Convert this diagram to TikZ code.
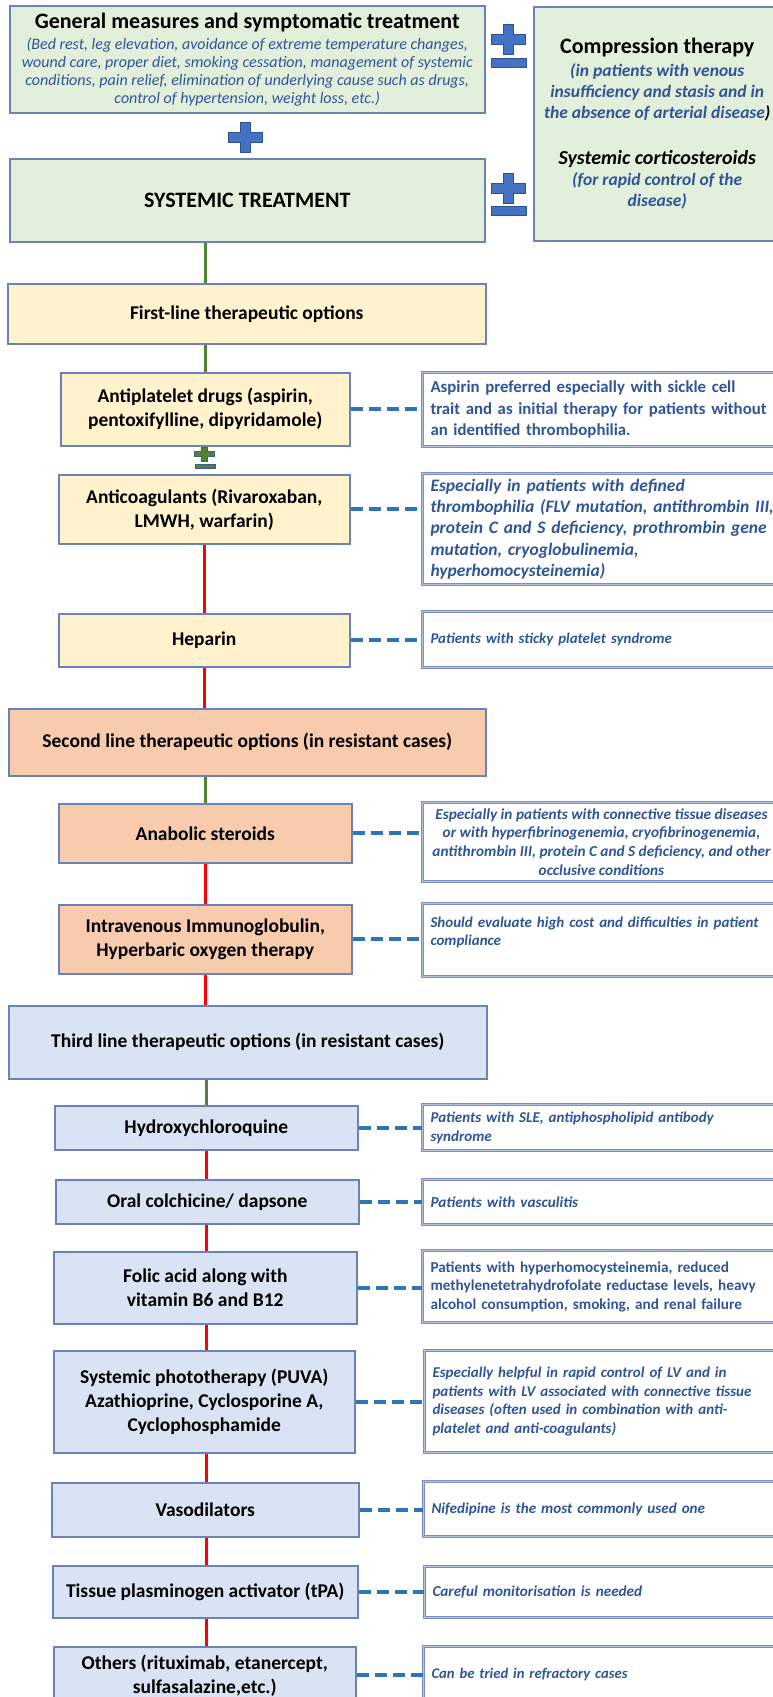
\documentclass[tikz,border=0pt]{standalone}
\usepackage{fontspec}
\setmainfont{Carlito}
\usetikzlibrary{calc}
\definecolor{gfill}{HTML}{E2EFDA}
\definecolor{yfill}{HTML}{FFF2CC}
\definecolor{ofill}{HTML}{F8CBAD}
\definecolor{bfill}{HTML}{DAE3F3}
\definecolor{boxline}{HTML}{6A82BA}
\definecolor{noteline}{HTML}{7C8FBF}
\definecolor{noteinner}{HTML}{B4C2E0}
\definecolor{notetxt}{HTML}{2F5597}
\definecolor{dashcol}{HTML}{2E75B6}
\definecolor{lgreen}{HTML}{548235}
\definecolor{lred}{HTML}{FF0000}
\definecolor{signblue}{HTML}{4472C4}
\definecolor{signblueline}{HTML}{2F528F}
\definecolor{signgreen}{HTML}{548235}
\definecolor{signgreenline}{HTML}{3B5E8C}
\begin{document}
\begin{tikzpicture}[x=1pt,y=-1pt,
  mainbox/.style={draw=boxline, line width=1.5pt, anchor=north west, inner sep=2pt, align=center,
    font=\fontsize{19.5}{24}\selectfont\bfseries},
  notebox/.style={draw=noteline, line width=1pt, double=noteinner, double distance=1pt, fill=white,
    anchor=north west, inner xsep=8pt, inner ysep=2pt, text width=360pt, align=left, text=notetxt},
  nfont/.style={font=\fontsize{#1}{19}\selectfont\bfseries\itshape},
  greenlink/.style={draw=lgreen, line width=3.5pt},
  redlink/.style={draw=lred, line width=3.5pt},
  dashlink/.style={draw=dashcol, line width=4pt, dash pattern=on 12pt off 6pt},
  bluesign/.style={fill=signblue, draw=signblueline, line width=1pt},
  greensign/.style={fill=signgreen, draw=signgreenline, line width=0.8pt},
  plusshape/.pic={\path[pic actions] (-17,-5) -- (-5,-5) -- (-5,-15) -- (5,-15) -- (5,-5) -- (17,-5)
     -- (17,5) -- (5,5) -- (5,15) -- (-5,15) -- (-5,5) -- (-17,5) -- cycle;}
]
\useasboundingbox (0,0) rectangle (772,1697);
\fill[white] (0,0) rectangle (772,1697);

% ---------- top area ----------
\node[mainbox, fill=gfill, minimum width=475pt, minimum height=107pt, text=notetxt,
  font=\fontsize{16}{18}\selectfont\itshape] (gen) at (9,5)
  {{\color{black}\upshape\bfseries\fontsize{22}{26}\selectfont General measures and symptomatic treatment}\\[3pt]
   (Bed rest, leg elevation, avoidance of extreme temperature changes,\\
   wound care, proper diet, smoking cessation, management of systemic\\
   conditions, pain relief, elimination of underlying cause such as drugs,\\
   control of hypertension, weight loss, etc.)};

\node[mainbox, fill=gfill, minimum width=475pt, minimum height=83pt,
  font=\fontsize{22}{26}\selectfont\bfseries] (sys) at (9,158) {SYSTEMIC TREATMENT};

\node[mainbox, fill=gfill, minimum width=247pt, minimum height=234pt, text=notetxt,
  font=\fontsize{17.5}{21}\selectfont\bfseries\itshape] (right) at (533,6)
  {{\color{black}\upshape\fontsize{22}{26}\selectfont Compression therapy}\\[2pt]
   (in patients with venous\\
   insufficiency and stasis and in\\
   the absence of arterial disease{\color{black})}\\[25pt]
   {\color{black}\fontsize{20}{24}\selectfont Systemic corticosteroids}\\
   (for rapid control of the\\
   disease)};

\pic[bluesign] at (245,137.5) {plusshape};
\pic[bluesign] at (508,39) {plusshape};
\path[bluesign] (491,58) rectangle (526,67);
\pic[bluesign] at (508,188) {plusshape};
\path[bluesign] (491,206) rectangle (526,215);

% ---------- first line ----------
\node[mainbox, fill=yfill, minimum width=478pt, minimum height=60pt] (first) at (7,283) {First-line therapeutic options};
\node[mainbox, fill=yfill, minimum width=289pt, minimum height=73pt] (anti) at (60,372)
  {Antiplatelet drugs (aspirin,\\ pentoxifylline, dipyridamole)};
\node[mainbox, fill=yfill, minimum width=291pt, minimum height=69pt] (antic) at (58,474)
  {Anticoagulants (Rivaroxaban,\\ LMWH, warfarin)};
\node[mainbox, fill=yfill, minimum width=291pt, minimum height=53pt] (hep) at (58,613) {Heparin};

\pic[greensign, xscale=0.57, yscale=0.47] at (204.5,454) {plusshape};
\path[greensign] (195,464) rectangle (215,468);

% ---------- second line ----------
\node[mainbox, fill=ofill, minimum width=477pt, minimum height=67pt] (second) at (8,708)
  {Second line therapeutic options (in resistant cases)};
\node[mainbox, fill=ofill, minimum width=293pt, minimum height=59pt] (anab) at (58,803) {Anabolic steroids};
\node[mainbox, fill=ofill, minimum width=293pt, minimum height=69pt] (ivig) at (58,904)
  {Intravenous Immunoglobulin,\\ Hyperbaric oxygen therapy};

% ---------- third line ----------
\node[mainbox, fill=bfill, minimum width=478pt, minimum height=73pt] (third) at (8,1005)
  {Third line therapeutic options (in resistant cases)};
\node[mainbox, fill=bfill, minimum width=303pt, minimum height=44pt] (hcq) at (54,1105) {Hydroxychloroquine};
\node[mainbox, fill=bfill, minimum width=303pt, minimum height=44pt] (colch) at (55,1179) {Oral colchicine/ dapsone};
\node[mainbox, fill=bfill, minimum width=303pt, minimum height=72pt] (folic) at (53,1251)
  {Folic acid along with\\ vitamin B6 and B12};
\node[mainbox, fill=bfill, minimum width=301pt, minimum height=102pt] (puva) at (53,1350)
  {Systemic phototherapy (PUVA)\\ Azathioprine, Cyclosporine A,\\ Cyclophosphamide};
\node[mainbox, fill=bfill, minimum width=307pt, minimum height=54pt] (vaso) at (51,1482) {Vasodilators};
\node[mainbox, fill=bfill, minimum width=305pt, minimum height=52pt] (tpa) at (52,1565) {Tissue plasminogen activator (tPA)};
\node[mainbox, fill=bfill, minimum width=302pt, minimum height=57pt] (others) at (53,1646)
  {Others (rituximab, etanercept,\\ sulfasalazine,etc.)};

% ---------- notes ----------
\node[notebox, minimum height=74pt, font=\fontsize{16.8}{21.5}\selectfont\bfseries] (n1) at (422,372)
  {Aspirin preferred especially with sickle cell\\ trait and as initial therapy for patients without\\ an identified thrombophilia.};
\node[notebox, minimum height=111pt, font=\fontsize{17.5}{21.3}\selectfont\bfseries\itshape] (n2) at (422,473)
  {Especially in patients with defined\\ thrombophilia (FLV mutation, antithrombin III,\\ protein C and S deficiency, prothrombin gene\\ mutation, cryoglobulinemia,\\ hyperhomocysteinemia)};
\node[notebox, minimum height=56pt, nfont=14.9] (n3) at (422,611) {Patients with sticky platelet syndrome};
\node[notebox, minimum height=79pt, text width=, minimum width=358pt, align=center,
  font=\fontsize{15.3}{18.7}\selectfont\bfseries\itshape] (n4) at (422,802)
  {Especially in patients with connective tissue diseases\\ or with hyperfibrinogenemia, cryofibrinogenemia,\\ antithrombin III, protein C and S deficiency, and other\\ occlusive conditions};
\node[notebox, minimum height=73pt, font=\fontsize{15}{18}\selectfont\bfseries\itshape] (n5) at (422,903)
  {Should evaluate high cost and difficulties in patient\\ compliance\\ \mbox{}};
\node[notebox, minimum height=46pt, font=\fontsize{15}{19}\selectfont\bfseries\itshape] (n6) at (422,1104)
  {Patients with SLE, antiphospholipid antibody\\ syndrome};
\node[notebox, minimum height=45pt, nfont=15.2] (n7) at (422,1179) {Patients with vasculitis};
\node[notebox, minimum height=72pt, font=\fontsize{15.2}{18.5}\selectfont\bfseries] (n8) at (422,1250)
  {Patients with hyperhomocysteinemia, reduced\\ methylenetetrahydrofolate reductase levels, heavy\\ alcohol consumption, smoking, and renal failure};
\node[notebox, minimum height=102pt, font=\fontsize{15}{18.7}\selectfont\bfseries\itshape] (n9) at (424,1350)
  {Especially helpful in rapid control of LV and in\\ patients with LV associated with connective tissue\\ diseases (often used in combination with anti-\\ platelet and anti-coagulants)};
\node[notebox, minimum height=55pt, nfont=15.1] (n10) at (423,1481) {Nifedipine is the most commonly used one};
\node[notebox, minimum height=51pt, nfont=15.2] (n11) at (424,1566) {Careful monitorisation is needed};
\node[notebox, minimum height=56pt, nfont=14.7] (n12) at (423,1646) {Can be tried in refractory cases};

% ---------- vertical connectors ----------
\draw[greenlink] (sys.south -| anti.north) -- (first.north -| anti.north);
\draw[greenlink] (first.south -| anti.north) -- (anti.north);
\draw[redlink] (antic.south) -- (hep.north);
\draw[redlink] (hep.south) -- (second.north -| hep.south);
\draw[greenlink] (second.south -| anab.north) -- (anab.north);
\draw[redlink] (anab.south) -- (ivig.north);
\draw[redlink] (ivig.south) -- (third.north -| ivig.south);
\draw[greenlink] (third.south -| hcq.north) -- (hcq.north);
\draw[redlink] (hcq.south) -- (colch.north -| hcq.south);
\draw[redlink] (colch.south -| hcq.south) -- (folic.north -| hcq.south);
\draw[redlink] (folic.south -| hcq.south) -- (puva.north -| hcq.south);
\draw[redlink] (puva.south -| hcq.south) -- (vaso.north -| hcq.south);
\draw[redlink] (vaso.south -| hcq.south) -- (tpa.north -| hcq.south);
\draw[redlink] (tpa.south -| hcq.south) -- (others.north -| hcq.south);

% ---------- dashed connectors ----------
\foreach \b/\n in {anti/n1, antic/n2, hep/n3, anab/n4, ivig/n5, hcq/n6, colch/n7, folic/n8, puva/n9, vaso/n10, tpa/n11, others/n12}
  \draw[dashlink] (\b.east) -- (\b.east -| \n.west);
\end{tikzpicture}
\end{document}
